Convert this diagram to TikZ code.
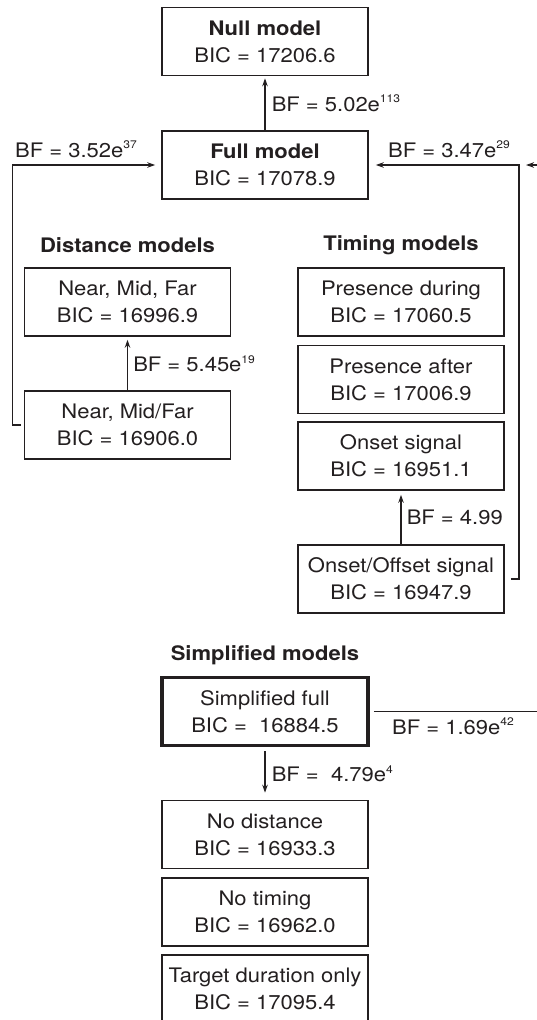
\documentclass[tikz,border=0pt]{standalone}
\usepackage{fontspec}
\setmainfont{TeX Gyre Heros}[FakeStretch=1.1]
\usepackage{xcolor}
\definecolor{ink}{HTML}{231F20}
\usetikzlibrary{arrows.meta,positioning}
% small raised exponent after an "e"
\newcommand{\bfexp}[1]{e\raisebox{0.8ex}{\fontsize{11}{11}\selectfont #1}}

\begin{document}
\begin{tikzpicture}[x=1pt, y=-1pt, >={Stealth[length=8pt,width=5.5pt]},
		font=\fontsize{20}{27}\selectfont, color=ink,
		model/.style={draw=ink, line width=1.6pt, minimum width=206pt, minimum height=68pt,
			inner sep=0pt, align=center},
		hdr/.style={font=\fontsize{20}{24}\selectfont\bfseries, inner sep=0pt},
		bflab/.style={inner sep=0pt},
		conn/.style={draw=ink, line width=1.5pt},
		arr/.style={conn, ->}]

		\useasboundingbox (0,0) rectangle (537,1020);

		% ---------- Null and full model
		\node[model] (null) at (265,41.5) {\textbf{Null model}\\BIC = 17206.6};
		\node[model] (full) at (265,165) {\textbf{Full model}\\BIC = 17078.9};

		% ---------- Distance models (left column)
		\node[hdr] (disthdr) at (127.5,245) {Distance models};
		\node[model] (nmf) at (127.5,302) {Near, Mid, Far\\BIC = 16996.9};
		\node[model] (nmfar) at (127.5,425) {Near, Mid/Far\\BIC = 16906.0};

		% ---------- Timing models (right column)
		\node[hdr] (timehdr) at (401,245) {Timing models};
		\node[model] (during) at (401,302) {Presence during\\BIC = 17060.5};
		\node[model] (after) at (401,379.5) {Presence after\\BIC = 17006.9};
		\node[model] (onset) at (401,456) {Onset signal\\BIC = 16951.1};
		\node[model] (onoff) at (401,579) {Onset/Offset signal\\BIC = 16947.9};

		% ---------- Simplified models (bottom)
		\node[hdr] (simphdr) at (265,655) {Simplified models};
		\node[model, line width=3.5pt] (simp) at (265,711.5) {Simplified full\\BIC =\ \ 16884.5};
		\node[model] (nodist) at (265,834.5) {No distance\\BIC = 16933.3};
		\node[model] (notime) at (265,912) {No timing\\BIC = 16962.0};
		\node[model] (target) at (265,989) {Target duration only\\BIC = 17095.4};

		% free ends at the right edge of the page
		\coordinate (redge) at (537,165);
		\coordinate (rtip) at (526,165);
		\coordinate (simpout) at (537,711.5);

		% ---------- Bayes factor connectors
		\draw[arr, shorten >=2pt] (full) -- (null)
			node[bflab, midway, right=6pt] {BF = 5.02\bfexp{113}};

		\draw[arr, shorten <=3pt, shorten >=6pt] (nmfar.west) -- ++(-11,0) |- (full.west);
		\node[bflab, anchor=base west] (bfdist) at (15,157) {BF = 3.52\bfexp{37}};

		\draw[arr, shorten <=6pt, shorten >=7pt] (onoff.east) -- ++(14,0) |- (full.east);
		\node[bflab, anchor=base west] (bftime) at (388,157) {BF = 3.47\bfexp{29}};
		\draw[arr] (redge) -- (rtip);

		\draw[arr, shorten >=3pt] (nmfar) -- (nmf)
			node[bflab, midway, right=5pt] {BF = 5.45\bfexp{19}};
		\draw[arr, shorten >=4pt] (onoff) -- (onset)
			node[bflab, midway, right=5pt] {BF = 4.99};

		\draw[arr, shorten <=4pt, shorten >=7pt] (simp) -- (nodist)
			node[bflab, midway, right=6pt] {BF =\ \ 4.79\bfexp{4}};
		\draw[conn, shorten <=4pt] (simp.east) -- (simpout);
		\node[bflab, anchor=base west] (bfsimp) at (392,734) {BF = 1.69\bfexp{42}};
	\end{tikzpicture}
\end{document}
